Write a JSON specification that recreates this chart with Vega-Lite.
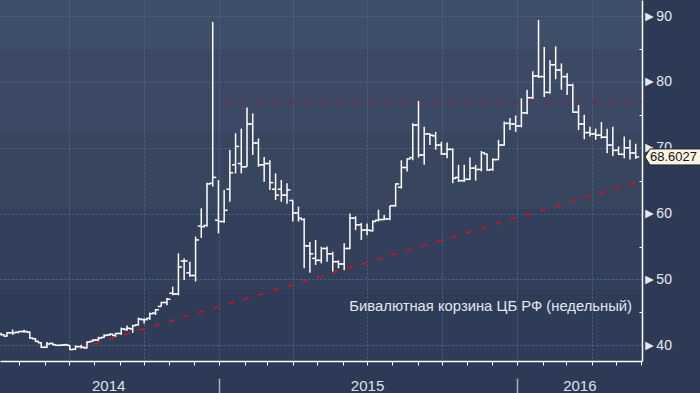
{
 "$schema": "https://vega.github.io/schema/vega-lite/v6.json",
 "width": 642, "height": 361,
 "autosize": {"type": "none"},
 "padding": {"left": 0, "top": 0, "right": 58, "bottom": 32},
 "background": "#2d3a56",
 "config": {
  "view": {"stroke": null, "fill": {"gradient": "linear", "x1": 0, "y1": 0, "x2": 0, "y2": 1, "stops": [
    {"offset": 0, "color": "#3f4e68"}, {"offset": 0.1385, "color": "#3f4e68"},
    {"offset": 0.1385, "color": "#3b4964"}, {"offset": 0.368, "color": "#3b4964"},
    {"offset": 0.368, "color": "#37455f"}, {"offset": 0.579, "color": "#37455f"},
    {"offset": 0.579, "color": "#33405b"}, {"offset": 0.8, "color": "#33405b"},
    {"offset": 0.8, "color": "#2f3c58"}, {"offset": 1, "color": "#2f3c58"}]}},
  "font": "Liberation Sans"
 },
 "title": {"text": "Бивалютная корзина ЦБ РФ (недельный)", "orient": "top", "anchor": "end", "frame": "group", "offset": 0, "dy": 326, "dx": -10, "fontSize": 14.8, "fontWeight": "normal", "color": "#e3e8ef", "font": "Liberation Sans", "baseline": "alphabetic"},
 "datasets": {
  "trend": [{"d": "2014-07-14", "v": 39.59}, {"d": "2016-06-01T17:00:00Z", "v": 65.02}],
  "hline": [{"d": "2015-01-07", "v": 76.96}, {"d": "2016-06-01T17:00:00Z", "v": 76.96}],
  "ohlc": [
   {"d": "2014-04-09", "o": 41.7, "h": 41.9, "l": 41.5, "c": 41.6},
   {"d": "2014-04-16", "o": 41.4, "h": 42.0, "l": 41.3, "c": 41.9},
   {"d": "2014-04-23", "o": 41.9, "h": 42.4, "l": 41.6, "c": 41.9},
   {"d": "2014-04-30", "o": 42.0, "h": 42.1, "l": 41.8, "c": 42.1},
   {"d": "2014-05-07", "o": 42.1, "h": 42.35, "l": 41.9, "c": 42.1},
   {"d": "2014-05-14", "o": 42.0, "h": 42.1, "l": 41.0, "c": 41.1},
   {"d": "2014-05-21", "o": 41.0, "h": 41.1, "l": 40.5, "c": 40.6},
   {"d": "2014-05-28", "o": 40.4, "h": 40.5, "l": 39.6, "c": 39.7},
   {"d": "2014-06-04", "o": 39.7, "h": 40.5, "l": 39.6, "c": 40.2},
   {"d": "2014-06-11", "o": 40.3, "h": 40.4, "l": 40.0, "c": 40.1},
   {"d": "2014-06-18", "o": 40.0, "h": 40.1, "l": 39.9, "c": 40.0},
   {"d": "2014-06-25", "o": 40.05, "h": 40.2, "l": 39.9, "c": 40.1},
   {"d": "2014-07-02", "o": 40.0, "h": 40.05, "l": 39.3, "c": 39.35},
   {"d": "2014-07-09", "o": 39.4, "h": 40.0, "l": 39.3, "c": 39.8},
   {"d": "2014-07-16", "o": 39.8, "h": 40.1, "l": 39.5, "c": 39.7},
   {"d": "2014-07-23", "o": 39.6, "h": 40.6, "l": 39.5, "c": 40.5},
   {"d": "2014-07-30", "o": 40.6, "h": 40.9, "l": 40.5, "c": 40.8},
   {"d": "2014-08-06", "o": 40.8, "h": 41.3, "l": 40.7, "c": 41.1},
   {"d": "2014-08-13", "o": 41.2, "h": 41.7, "l": 41.1, "c": 41.5},
   {"d": "2014-08-20", "o": 41.6, "h": 41.8, "l": 41.4, "c": 41.7},
   {"d": "2014-08-27", "o": 41.5, "h": 41.9, "l": 41.3, "c": 41.8},
   {"d": "2014-09-03", "o": 41.8, "h": 42.7, "l": 41.6, "c": 42.5},
   {"d": "2014-09-10", "o": 42.4, "h": 43.0, "l": 42.2, "c": 42.6},
   {"d": "2014-09-17", "o": 42.5, "h": 43.1, "l": 41.9, "c": 43.0},
   {"d": "2014-09-24", "o": 43.1, "h": 44.2, "l": 43.0, "c": 44.0},
   {"d": "2014-10-01", "o": 43.9, "h": 44.1, "l": 43.3, "c": 43.9},
   {"d": "2014-10-08", "o": 44.1, "h": 45.0, "l": 43.9, "c": 44.8},
   {"d": "2014-10-15", "o": 44.9, "h": 45.5, "l": 44.6, "c": 45.4},
   {"d": "2014-10-22", "o": 45.9, "h": 46.6, "l": 45.9, "c": 46.5},
   {"d": "2014-10-29", "o": 46.5, "h": 47.2, "l": 46.1, "c": 47.0},
   {"d": "2014-11-05", "o": 47.9, "h": 48.9, "l": 47.6, "c": 47.8},
   {"d": "2014-11-12", "o": 47.8, "h": 53.96, "l": 47.6, "c": 51.9},
   {"d": "2014-11-19", "o": 52.8, "h": 53.2, "l": 49.9, "c": 52.8},
   {"d": "2014-11-26", "o": 51.0, "h": 52.7, "l": 50.4, "c": 50.6},
   {"d": "2014-12-03", "o": 50.6, "h": 56.5, "l": 49.7, "c": 56.0},
   {"d": "2014-12-10", "o": 58.1, "h": 60.8, "l": 56.3, "c": 58.0},
   {"d": "2014-12-17", "o": 58.2, "h": 64.7, "l": 58.0, "c": 64.5},
   {"d": "2014-12-24", "o": 64.6, "h": 89.1, "l": 64.1, "c": 65.5},
   {"d": "2014-12-31", "o": 59.0, "h": 65.1, "l": 57.0, "c": 58.8},
   {"d": "2015-01-07", "o": 58.8, "h": 63.6, "l": 58.6, "c": 60.5},
   {"d": "2015-01-14", "o": 63.7, "h": 69.65, "l": 61.8, "c": 66.2},
   {"d": "2015-01-21", "o": 67.4, "h": 72.2, "l": 66.1, "c": 70.2},
   {"d": "2015-01-28", "o": 67.6, "h": 72.9, "l": 66.1, "c": 67.1},
   {"d": "2015-02-04", "o": 67.1, "h": 76.1, "l": 67.1, "c": 73.6},
   {"d": "2015-02-11", "o": 73.6, "h": 75.2, "l": 68.9, "c": 70.7},
   {"d": "2015-02-18", "o": 70.7, "h": 71.4, "l": 67.1, "c": 67.4},
   {"d": "2015-02-25", "o": 67.4, "h": 68.6, "l": 64.85, "c": 67.6},
   {"d": "2015-03-04", "o": 67.6, "h": 68.1, "l": 63.6, "c": 64.7},
   {"d": "2015-03-11", "o": 63.7, "h": 66.1, "l": 62.06, "c": 62.8},
   {"d": "2015-03-18", "o": 63.7, "h": 65.1, "l": 61.8, "c": 62.8},
   {"d": "2015-03-25", "o": 62.8, "h": 64.6, "l": 61.5, "c": 63.6},
   {"d": "2015-04-01", "o": 62.0, "h": 62.1, "l": 58.8, "c": 60.1},
   {"d": "2015-04-08", "o": 60.1, "h": 61.05, "l": 58.8, "c": 59.3},
   {"d": "2015-04-15", "o": 59.1, "h": 59.3, "l": 51.7, "c": 55.1},
   {"d": "2015-04-22", "o": 55.1, "h": 55.7, "l": 51.0, "c": 53.9},
   {"d": "2015-04-29", "o": 53.2, "h": 56.0, "l": 52.2, "c": 52.9},
   {"d": "2015-05-06", "o": 52.9, "h": 54.95, "l": 52.45, "c": 54.7},
   {"d": "2015-05-13", "o": 54.7, "h": 55.0, "l": 52.7, "c": 53.9},
   {"d": "2015-05-20", "o": 53.9, "h": 54.2, "l": 51.2, "c": 52.7},
   {"d": "2015-05-27", "o": 52.7, "h": 52.9, "l": 51.7, "c": 52.35},
   {"d": "2015-06-03", "o": 52.35, "h": 55.5, "l": 51.4, "c": 54.7},
   {"d": "2015-06-10", "o": 54.7, "h": 60.0, "l": 54.6, "c": 59.3},
   {"d": "2015-06-17", "o": 59.3, "h": 59.6, "l": 57.5, "c": 58.3},
   {"d": "2015-06-24", "o": 58.3, "h": 58.6, "l": 56.0, "c": 57.5},
   {"d": "2015-07-01", "o": 57.5, "h": 58.5, "l": 56.7, "c": 57.5},
   {"d": "2015-07-08", "o": 57.4, "h": 59.0, "l": 57.3, "c": 58.8},
   {"d": "2015-07-15", "o": 59.0, "h": 60.6, "l": 58.8, "c": 59.1},
   {"d": "2015-07-22", "o": 59.1, "h": 59.8, "l": 59.0, "c": 59.2},
   {"d": "2015-07-29", "o": 59.2, "h": 61.2, "l": 59.0, "c": 61.2},
   {"d": "2015-08-05", "o": 61.2, "h": 64.6, "l": 61.05, "c": 64.5},
   {"d": "2015-08-12", "o": 64.0, "h": 68.1, "l": 63.8, "c": 67.0},
   {"d": "2015-08-19", "o": 67.0, "h": 68.4, "l": 66.4, "c": 68.3},
   {"d": "2015-08-26", "o": 68.5, "h": 73.7, "l": 68.1, "c": 73.45},
   {"d": "2015-09-02", "o": 73.45, "h": 77.1, "l": 68.5, "c": 68.9},
   {"d": "2015-09-09", "o": 68.9, "h": 73.2, "l": 67.4, "c": 72.1},
   {"d": "2015-09-16", "o": 72.1, "h": 72.2, "l": 70.4, "c": 71.9},
   {"d": "2015-09-23", "o": 71.8, "h": 72.4, "l": 69.7, "c": 70.4},
   {"d": "2015-09-30", "o": 70.4, "h": 70.9, "l": 68.9, "c": 69.05},
   {"d": "2015-10-07", "o": 69.05, "h": 70.8, "l": 68.4, "c": 69.75},
   {"d": "2015-10-14", "o": 69.75, "h": 69.9, "l": 64.6, "c": 65.35},
   {"d": "2015-10-21", "o": 65.5, "h": 67.4, "l": 64.8, "c": 65.0},
   {"d": "2015-10-28", "o": 65.0, "h": 67.4, "l": 64.8, "c": 65.2},
   {"d": "2015-11-04", "o": 65.2, "h": 68.5, "l": 65.1, "c": 66.9},
   {"d": "2015-11-11", "o": 66.9, "h": 67.4, "l": 65.0, "c": 66.7},
   {"d": "2015-11-18", "o": 66.7, "h": 69.5, "l": 66.4, "c": 69.25},
   {"d": "2015-11-25", "o": 69.05, "h": 69.1, "l": 66.5, "c": 66.6},
   {"d": "2015-12-02", "o": 66.7, "h": 68.4, "l": 66.5, "c": 68.2},
   {"d": "2015-12-09", "o": 68.2, "h": 71.2, "l": 68.2, "c": 70.4},
   {"d": "2015-12-16", "o": 70.4, "h": 74.0, "l": 70.3, "c": 73.7},
   {"d": "2015-12-23", "o": 73.7, "h": 74.5, "l": 72.7, "c": 73.6},
   {"d": "2015-12-30", "o": 73.6, "h": 74.9, "l": 72.4, "c": 73.3},
   {"d": "2016-01-06", "o": 73.3, "h": 77.5, "l": 73.1, "c": 75.3},
   {"d": "2016-01-13", "o": 75.3, "h": 78.8, "l": 75.1, "c": 77.6},
   {"d": "2016-01-20", "o": 77.6, "h": 81.6, "l": 77.4, "c": 80.9},
   {"d": "2016-01-27", "o": 80.9, "h": 89.4, "l": 80.6, "c": 80.8},
   {"d": "2016-02-03", "o": 80.8, "h": 85.3, "l": 77.7, "c": 78.4},
   {"d": "2016-02-10", "o": 78.4, "h": 83.3, "l": 78.2, "c": 82.6},
   {"d": "2016-02-17", "o": 82.6, "h": 85.4, "l": 80.4, "c": 81.8},
   {"d": "2016-02-24", "o": 81.8, "h": 82.8, "l": 78.8, "c": 80.8},
   {"d": "2016-03-02", "o": 80.8, "h": 81.3, "l": 78.0, "c": 79.5},
   {"d": "2016-03-09", "o": 79.5, "h": 79.7, "l": 75.3, "c": 75.4},
   {"d": "2016-03-16", "o": 75.4, "h": 76.5, "l": 72.7, "c": 73.6},
   {"d": "2016-03-23", "o": 73.6, "h": 75.0, "l": 71.3, "c": 72.3},
   {"d": "2016-03-30", "o": 72.3, "h": 73.2, "l": 71.7, "c": 72.1},
   {"d": "2016-04-06", "o": 72.1, "h": 72.9, "l": 71.2, "c": 71.9},
   {"d": "2016-04-13", "o": 71.9, "h": 73.9, "l": 71.4, "c": 71.6},
   {"d": "2016-04-20", "o": 71.6, "h": 72.9, "l": 69.15, "c": 70.4},
   {"d": "2016-04-27", "o": 70.4, "h": 73.2, "l": 68.75, "c": 69.6},
   {"d": "2016-05-04", "o": 69.6, "h": 70.2, "l": 68.9, "c": 69.0},
   {"d": "2016-05-11", "o": 69.0, "h": 71.7, "l": 68.4, "c": 70.0},
   {"d": "2016-05-18", "o": 70.0, "h": 71.2, "l": 68.2, "c": 69.2},
   {"d": "2016-05-25", "o": 69.2, "h": 70.6, "l": 68.3, "c": 68.6027}
  ]
 },
 "layer": [
  {"data": {"name": "trend"},
   "mark": {"type": "line", "color": "#d3101f", "strokeWidth": 1.6, "strokeDash": [6, 9.5]},
   "encoding": {
    "x": {"field": "d", "type": "temporal", "axis": null, "scale": {"type": "utc", "nice": false, "domain": [{"year": 2014, "month": 4, "date": 7, "hours": 12, "utc": true}, {"year": 2016, "month": 6, "date": 1, "hours": 17, "utc": true}]}},
    "y": {"field": "v", "type": "quantitative", "axis": null, "scale": {"domain": [37.62, 92.43], "nice": false, "zero": false}}}},
  {"data": {"name": "hline"},
   "mark": {"type": "line", "color": "#b8142c", "strokeWidth": 1, "strokeDash": [6, 10]},
   "encoding": {
    "x": {"field": "d", "type": "temporal", "axis": null, "scale": {"type": "utc", "nice": false, "domain": [{"year": 2014, "month": 4, "date": 7, "hours": 12, "utc": true}, {"year": 2016, "month": 6, "date": 1, "hours": 17, "utc": true}]}},
    "y": {"field": "v", "type": "quantitative", "axis": null, "scale": {"domain": [37.62, 92.43], "nice": false, "zero": false}}}},
  {"data": {"name": "ohlc"},
   "mark": {"type": "rule", "color": "#ffffff", "strokeWidth": 1.5},
   "encoding": {
    "x": {"field": "d", "type": "temporal",
     "scale": {"type": "utc", "nice": false, "domain": [{"year": 2014, "month": 4, "date": 7, "hours": 12, "utc": true}, {"year": 2016, "month": 6, "date": 1, "hours": 17, "utc": true}]},
     "axis": {"orient": "bottom", "title": null, "labels": false, "tickCount": {"interval": "month", "step": 1}, "domainColor": "#ffffff", "domainWidth": 1.5, "tickColor": "#ffffff", "tickSize": 4, "tickWidth": 1, "grid": true, "gridColor": "#4a6682", "gridDash": [2, 2], "gridWidth": 1, "gridOpacity": {"condition": {"test": "utcmonth(datum.value) % 3 === 0", "value": 1}, "value": 0}}},
    "y": {"field": "l", "type": "quantitative",
     "scale": {"domain": [37.62, 92.43], "nice": false, "zero": false},
     "axis": {"orient": "right", "title": null, "values": [40, 50, 60, 70, 80, 90], "labelExpr": "'►' + datum.label", "ticks": false, "tickSize": 0, "labelPadding": 0, "domainColor": "#ffffff", "domainWidth": 1.5, "labelColor": "#e6eaf0", "labelFontSize": 14, "labelFont": "'Liberation Sans Narrow', 'Liberation Sans', sans-serif", "grid": true, "gridColor": "#4a6682", "gridDash": [2, 2], "gridWidth": 1}},
    "y2": {"field": "h"}}},
  {"data": {"name": "ohlc"},
   "mark": {"type": "tick", "orient": "horizontal", "color": "#ffffff", "thickness": 1.5, "size": 3.5, "xOffset": -1.75, "opacity": 1},
   "encoding": {
    "x": {"field": "d", "type": "temporal",
     "scale": {"type": "utc", "nice": false, "domain": [{"year": 2014, "month": 4, "date": 7, "hours": 12, "utc": true}, {"year": 2016, "month": 6, "date": 1, "hours": 17, "utc": true}]},
     "axis": {"orient": "bottom", "title": null, "values": [{"year": 2014, "month": 8, "date": 18, "utc": true}, {"year": 2015, "month": 7, "date": 1, "utc": true}, {"year": 2016, "month": 3, "date": 17, "utc": true}], "labelExpr": "utcFormat(datum.value, '%Y')", "ticks": false, "tickSize": 0, "domain": false, "grid": false, "labelPadding": 17, "labelFontSize": 15, "labelColor": "#dde2ea", "labelFont": "'Liberation Sans Narrow', 'Liberation Sans', sans-serif", "labelFlush": false, "labelOverlap": false}},
    "y": {"field": "o", "type": "quantitative",
     "scale": {"domain": [37.62, 92.43], "nice": false, "zero": false},
     "axis": {"orient": "right", "title": null, "values": [45, 55, 65, 75, 85], "labels": false, "domain": false, "grid": false, "offset": -3, "tickSize": 3, "tickColor": "#ffffff", "tickWidth": 1}}}},
  {"data": {"name": "ohlc"},
   "mark": {"type": "tick", "orient": "horizontal", "color": "#ffffff", "thickness": 1.5, "size": 3.5, "xOffset": 1.75, "opacity": 1},
   "encoding": {
    "x": {"field": "d", "type": "temporal",
     "scale": {"type": "utc", "nice": false, "domain": [{"year": 2014, "month": 4, "date": 7, "hours": 12, "utc": true}, {"year": 2016, "month": 6, "date": 1, "hours": 17, "utc": true}]},
     "axis": {"orient": "bottom", "title": null, "values": [{"year": 2015, "month": 1, "date": 1, "utc": true}, {"year": 2016, "month": 1, "date": 1, "utc": true}], "labels": false, "domain": false, "grid": false, "offset": 17, "tickSize": 16, "tickColor": "#a8b0bf", "tickWidth": 1.5}},
    "y": {"field": "c", "type": "quantitative", "axis": null,
     "scale": {"domain": [37.62, 92.43], "nice": false, "zero": false}}}},
  {"data": {"name": "ohlc"},
   "transform": [{"aggregate": [{"op": "argmax", "field": "d", "as": "last"}]}],
   "mark": {"type": "point", "shape": "M0,0L0.09,-0.143L1,-0.143L1,0.143L0.09,0.143Z", "size": 12544, "filled": true, "fill": "#fdf4e7", "stroke": "#222222", "strokeWidth": 1, "opacity": 1, "xOffset": 3},
   "encoding": {
    "x": {"value": "width"},
    "y": {"field": "last.c", "type": "quantitative", "axis": null, "scale": {"domain": [37.62, 92.43], "nice": false, "zero": false}}}},
  {"data": {"name": "ohlc"},
   "transform": [{"aggregate": [{"op": "argmax", "field": "d", "as": "last"}]}],
   "mark": {"type": "text", "align": "left", "baseline": "middle", "dx": 8, "fontSize": 13, "color": "#111111", "font": "Liberation Sans"},
   "encoding": {
    "x": {"value": "width"},
    "y": {"field": "last.c", "type": "quantitative", "axis": null, "scale": {"domain": [37.62, 92.43], "nice": false, "zero": false}},
    "text": {"field": "last.c", "type": "quantitative", "format": ".4f"}}}
 ],
 "resolve": {"axis": {"x": "independent", "y": "independent"}}
}
